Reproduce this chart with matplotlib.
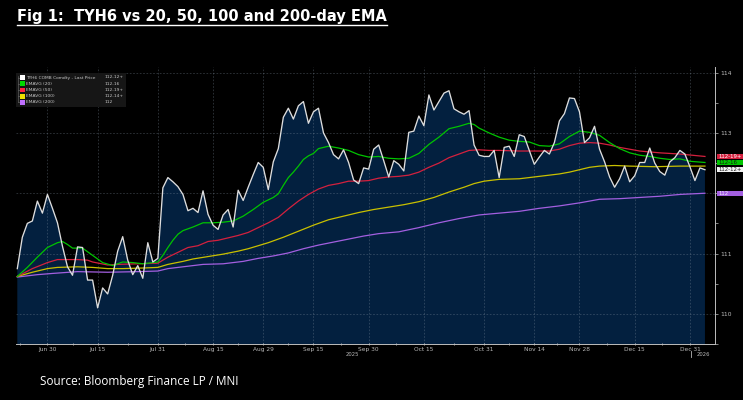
import numpy as np
import matplotlib
matplotlib.use('Agg')
import matplotlib.pyplot as plt
from matplotlib.patches import Rectangle
from matplotlib.lines import Line2D
import matplotlib.transforms as mtrans

# ---------------- data ----------------
# TYH6 daily last price (trading-day index 0..137)
price = [110.75, 111.27, 111.50, 111.54, 111.87, 111.67, 111.98, 111.75, 111.51, 111.12,
         110.78, 110.64, 111.11, 111.10, 110.56, 110.56, 110.10, 110.43, 110.33, 110.64,
         111.04, 111.28, 110.89, 110.65, 110.80, 110.59, 111.18, 110.86, 110.92, 112.09,
         112.26, 112.19, 112.11, 111.98, 111.71, 111.75, 111.68, 112.04, 111.65, 111.47,
         111.40, 111.64, 111.73, 111.44, 112.05, 111.88, 112.10, 112.31, 112.51, 112.43,
         112.06, 112.52, 112.74, 113.26, 113.41, 113.23, 113.45, 113.52, 113.16, 113.35,
         113.41, 113.00, 112.84, 112.64, 112.57, 112.72, 112.51, 112.22, 112.16, 112.42,
         112.40, 112.73, 112.80, 112.54, 112.27, 112.54, 112.48, 112.37, 113.01, 113.03,
         113.28, 113.12, 113.63, 113.38, 113.52, 113.66, 113.70, 113.40, 113.35, 113.31,
         113.37, 112.80, 112.63, 112.61, 112.61, 112.71, 112.26, 112.76, 112.78, 112.61,
         112.97, 112.94, 112.71, 112.48, 112.60, 112.71, 112.65, 112.84, 113.20, 113.32,
         113.58, 113.57, 113.35, 112.84, 112.92, 113.11, 112.73, 112.52, 112.27, 112.10,
         112.24, 112.45, 112.19, 112.29, 112.51, 112.51, 112.75, 112.50, 112.36, 112.30,
         112.52, 112.59, 112.71, 112.65, 112.44, 112.21, 112.42, 112.39]

ema20_idx = [0, 2, 4, 6, 8, 9, 10, 11, 13, 15, 17, 19, 21, 23, 25, 27, 28, 29, 30, 31, 32, 33,
             35, 37, 39, 41, 43, 45, 47, 49, 51, 52, 53, 54, 55, 56, 57, 58, 59, 60, 62, 64, 66,
             68, 70, 72, 74, 76, 78, 80, 82, 84, 86, 88, 90, 91, 92, 94, 96, 98, 100, 102, 104,
             106, 108, 110, 112, 114, 116, 118, 120, 122, 124, 126, 128, 130, 132, 134, 137]
ema20 = [110.62, 110.77, 110.94, 111.10, 111.18, 111.20, 111.15, 111.09, 111.09, 110.97, 110.85,
         110.80, 110.86, 110.85, 110.83, 110.85, 110.86, 110.97, 111.10, 111.22, 111.32, 111.38,
         111.44, 111.51, 111.51, 111.52, 111.54, 111.62, 111.73, 111.85, 111.93, 111.99, 112.13,
         112.26, 112.35, 112.45, 112.56, 112.62, 112.66, 112.74, 112.78, 112.75, 112.71, 112.64,
         112.60, 112.61, 112.58, 112.57, 112.58, 112.66, 112.81, 112.93, 113.07, 113.11, 113.16,
         113.14, 113.08, 113.00, 112.93, 112.88, 112.86, 112.85, 112.79, 112.78, 112.82, 112.94,
         113.03, 113.01, 112.96, 112.84, 112.74, 112.67, 112.63, 112.61, 112.58, 112.56, 112.57,
         112.53, 112.51]

ema50_idx = [0, 3, 6, 8, 12, 14, 15, 18, 20, 24, 28, 30, 32, 34, 36, 38, 40, 42, 44, 46, 48, 50,
             52, 54, 56, 58, 60, 62, 64, 66, 68, 70, 72, 74, 76, 78, 80, 82, 84, 86, 88, 90, 92,
             94, 96, 100, 104, 106, 108, 110, 112, 114, 116, 118, 120, 122, 124, 128, 132, 137]
ema50 = [110.62, 110.75, 110.85, 110.90, 110.90, 110.89, 110.86, 110.81, 110.82, 110.83, 110.84,
         110.94, 111.02, 111.10, 111.13, 111.20, 111.22, 111.26, 111.30, 111.35, 111.43, 111.51,
         111.60, 111.74, 111.87, 111.98, 112.07, 112.13, 112.16, 112.20, 112.20, 112.21, 112.25,
         112.27, 112.28, 112.30, 112.35, 112.43, 112.50, 112.59, 112.65, 112.71, 112.72, 112.71,
         112.71, 112.70, 112.70, 112.70, 112.73, 112.79, 112.83, 112.84, 112.83, 112.80, 112.76,
         112.73, 112.70, 112.67, 112.65, 112.61]

ema100_idx = [0, 3, 6, 8, 12, 15, 18, 21, 25, 28, 30, 33, 35, 38, 41, 44, 46, 48, 50, 53, 56, 59,
              62, 65, 68, 71, 74, 77, 80, 83, 86, 89, 91, 93, 96, 100, 103, 106, 108, 110, 112,
              114, 116, 119, 122, 127, 132, 137]
ema100 = [110.62, 110.69, 110.75, 110.77, 110.78, 110.77, 110.75, 110.75, 110.76, 110.77, 110.82,
          110.87, 110.91, 110.95, 110.99, 111.04, 111.08, 111.13, 111.18, 111.27, 111.37, 111.47,
          111.56, 111.62, 111.68, 111.73, 111.77, 111.81, 111.86, 111.93, 112.02, 112.10, 112.16,
          112.20, 112.23, 112.24, 112.27, 112.30, 112.32, 112.35, 112.39, 112.43, 112.45, 112.46,
          112.45, 112.44, 112.45, 112.45]

ema200_idx = [0, 4, 7, 12, 18, 24, 28, 30, 33, 37, 41, 45, 48, 51, 54, 57, 60, 63, 66, 69, 72, 76,
              80, 84, 88, 92, 96, 100, 104, 108, 112, 116, 120, 124, 128, 132, 137]
ema200 = [110.61, 110.65, 110.67, 110.70, 110.69, 110.70, 110.71, 110.75, 110.78, 110.82, 110.83,
          110.87, 110.92, 110.96, 111.01, 111.08, 111.14, 111.19, 111.24, 111.29, 111.33, 111.36,
          111.43, 111.51, 111.58, 111.64, 111.67, 111.70, 111.75, 111.79, 111.84, 111.90, 111.91,
          111.93, 111.95, 111.98, 112.00]

tick_pos = [6, 16, 28, 39, 49, 59, 70, 81, 93, 103, 112, 123, 134]
tick_labels = ['Jun 30', 'Jul 15', 'Jul 31', 'Aug 15', 'Aug 29', 'Sep 15', 'Sep 30',
               'Oct 15', 'Oct 31', 'Nov 14', 'Nov 28', 'Dec 15', 'Dec 31']
year_labels = ['2025', '2026']
ytick_vals = [110, 111, 112, 113, 114]
ytick_labels = ['110', '111', '', '113', '114']

legend_names = ['TYH6 COMB Comdty - Last Price', 'EMAVG (20)', 'EMAVG (50)',
                'EMAVG (100)', 'EMAVG (200)']
legend_values = ['112-12+', '112-16', '112-19+', '112-14+', '112']

title = 'Fig 1:  TYH6 vs 20, 50, 100 and 200-day EMA'
source = 'Source: Bloomberg Finance LP / MNI'

# ---------------- styling ----------------
C_WHITE = '#dedede'
C_GREEN = '#00c400'
C_RED = '#d4203e'
C_YELLOW = '#c9c000'
C_PURPLE = '#a35fe0'
C_FILL = '#03203f'
C_AX = '#bdbdbd'

W, H = 743, 400
fig = plt.figure(figsize=(W / 100, H / 100), dpi=100, facecolor='black')


def fx(px):
    return px / W


def fy(py):
    return 1 - py / H


ax = fig.add_axes([fx(16), fy(344), fx(715) - fx(16), fy(66.6) - fy(344)])
ax.set_facecolor('black')

x = np.arange(len(price))
ax.fill_between(x, price, 100, color=C_FILL, lw=0, zorder=0.5)
ax.plot(ema200_idx, ema200, color=C_PURPLE, lw=0.9, zorder=2)
ax.plot(ema100_idx, ema100, color=C_YELLOW, lw=0.9, zorder=2.1)
ax.plot(ema50_idx, ema50, color=C_RED, lw=0.9, zorder=2.2)
ax.plot(ema20_idx, ema20, color=C_GREEN, lw=0.9, zorder=2.3)
ax.plot(x, price, color=C_WHITE, lw=0.95, zorder=3)

ax.set_xlim(-0.26, 139.0)
ax.set_ylim(109.75, 114.1)

ax.set_axisbelow('line')
ax.grid(True, which='major', color='#8090a0', alpha=0.38, linestyle=(0, (2, 2)), lw=0.6)

for s in ['left', 'top']:
    ax.spines[s].set_visible(False)
for s in ['right', 'bottom']:
    ax.spines[s].set_color(C_AX)
    ax.spines[s].set_linewidth(0.7)

ax.yaxis.tick_right()
ax.set_yticks(ytick_vals, ytick_labels)
ax.set_yticks([v + 0.5 for v in ytick_vals[:-1]] + [109.5], minor=True)
ax.tick_params(axis='y', which='both', colors=C_AX, labelsize=4.3, length=2,
               width=0.5, pad=1.5, direction='out')

ax.set_xticks(tick_pos, tick_labels)
mids = [(a + b) / 2 for a, b in zip(tick_pos[:-1], tick_pos[1:])] + [0.5]
ax.set_xticks(mids, minor=True)
ax.tick_params(axis='x', which='both', colors=C_AX, labelsize=4.2, length=1.6,
               width=0.6, pad=1.2, direction='inout')
for lab in ax.get_xticklabels():
    lab.set_color('#b8b8b8')

# year labels
fig.text(fx(352), fy(354.5), year_labels[0], color='#b8b8b8', fontsize=3.8, ha='center', va='center')
fig.text(fx(703), fy(354.5), year_labels[1], color='#b8b8b8', fontsize=3.8, ha='center', va='center')
fig.lines.append(Line2D([fx(690.7), fx(690.7)], [fy(350.5), fy(357)], transform=fig.transFigure,
                        color='#b8b8b8', lw=0.6))

# right-edge last value labels
btrans = mtrans.blended_transform_factory(ax.transAxes, ax.transData)
box_h = 0.087
for val, txt, fc, tc in [(ema50[-1], legend_values[2], C_RED, 'white'),
                         (ema20[-1], legend_values[1], C_GREEN, '#102010'),
                         (price[-1], legend_values[0], '#f2f2f2', '#202020'),
                         (ema200[-1], legend_values[4], C_PURPLE, '#f0e8ff')]:
    r = Rectangle((1.0029, val - box_h / 2), 0.04, box_h, transform=btrans,
                  fc=fc, ec='none', clip_on=False, zorder=5)
    ax.add_patch(r)
    ax.text(1.0055, val, txt, transform=btrans, color=tc, fontsize=3.9,
            va='center', ha='left', clip_on=False, zorder=6)

# legend box
fig.patches.append(Rectangle((fx(16), fy(107)), fx(126) - fx(16), fy(72.7) - fy(107),
                             transform=fig.transFigure, fc='#161616', ec='none', zorder=4))
leg_colors = ['#ffffff', '#00d800', '#ff2040', '#f0e000', '#c070ff']
row_y = [77.5 + 6.2 * k for k in range(5)]
fig.lines.append(Line2D([fx(18), fx(18)], [fy(75.5), fy(row_y[-1])], transform=fig.transFigure,
                        color='#707070', lw=0.4, zorder=5))
for k, (nm, vl, col) in enumerate(zip(legend_names, legend_values, leg_colors)):
    yy = row_y[k]
    fig.lines.append(Line2D([fx(18), fx(20)], [fy(yy), fy(yy)], transform=fig.transFigure,
                            color='#707070', lw=0.4, zorder=5))
    fig.patches.append(Rectangle((fx(20), fy(yy + 2.4)), fx(25) - fx(20), fy(yy - 2.4) - fy(yy + 2.4),
                                 transform=fig.transFigure, fc=col, ec='none', zorder=5))
    fig.text(fx(26.5), fy(yy), nm, color='#c8c8c8', fontsize=3.2, va='center', ha='left', zorder=6)
    fig.text(fx(105), fy(yy), vl, color='#c8c8c8', fontsize=3.2, va='center', ha='left', zorder=6)

# title with underline
t = fig.text(fx(17), fy(17), title, color='white', fontsize=10.5, fontweight='bold',
             family='DejaVu Sans', va='center', ha='left')
fig.canvas.draw()
bb = t.get_window_extent(renderer=fig.canvas.get_renderer()).transformed(fig.transFigure.inverted())
fig.lines.append(Line2D([bb.x0, bb.x1], [fy(24.7), fy(24.7)], transform=fig.transFigure,
                        color='white', lw=1.0))

fig.text(fx(40), fy(381), source, color='white', fontsize=8.5, family='Open Sans',
         va='center', ha='left')

fig.savefig('out.png', dpi=100, facecolor='black')
